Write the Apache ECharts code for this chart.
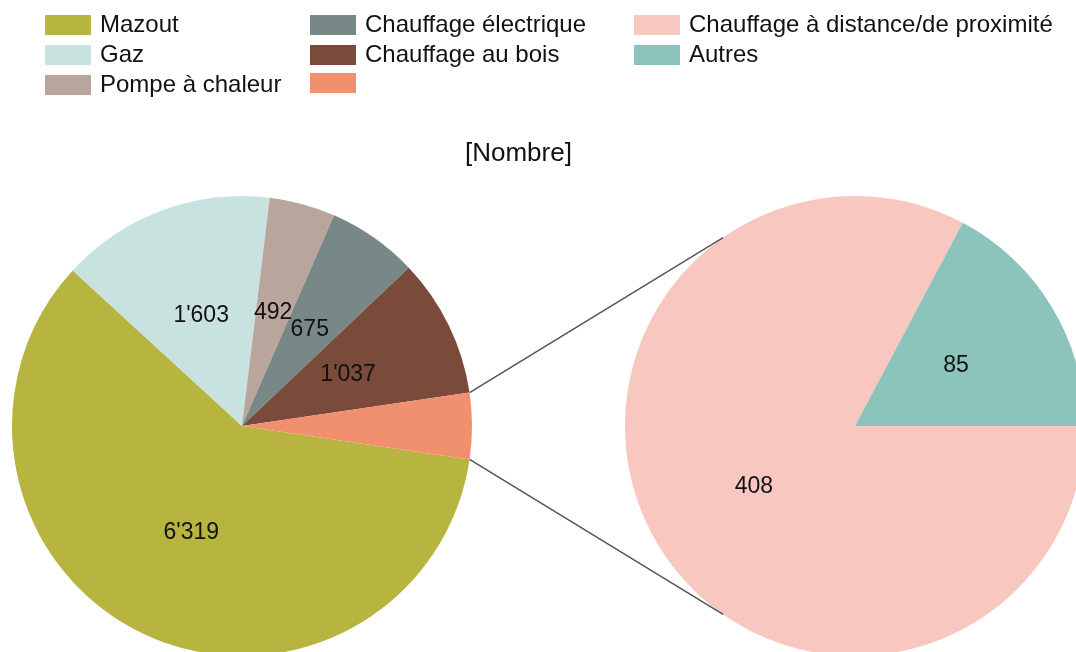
<!DOCTYPE html>
<html>
<head>
<meta charset="utf-8">
<script src="https://cdn.jsdelivr.net/npm/echarts@6/dist/echarts.min.js"></script>
<style>
html,body{margin:0;padding:0;background:#fff;}
#chart{width:1076px;height:652px;}
</style>
</head>
<body>
<div id="chart"></div>
<script>
const categories = ['Mazout', 'Gaz', 'Pompe à chaleur', 'Chauffage électrique', 'Chauffage au bois'];
const values = [6319, 1603, 492, 675, 1037];
const colors = ['#b8b440', '#c8e2e0', '#baa59d', '#788886', '#7a4a3a'];
const detailCategories = ['Chauffage à distance/de proximité', 'Autres'];
const detailValues = [408, 85];
const detailColors = ['#f7c7c0', '#8cc3bb'];
const groupName = 'Chauffage à distance/de proximité + Autres';
const groupColor = '#f1906f';
const titleText = '[Nombre]';

const FONT = '"Liberation Sans", Arial, sans-serif';
const fmt = v => String(v).replace(/\B(?=(\d{3})+(?!\d))/g, "'");

const groupValue = detailValues.reduce((a, b) => a + b, 0);
const total = values.reduce((a, b) => a + b, 0) + groupValue;
const halfAngle = 180 * groupValue / total;

const leftCenter = [242, 426];
const rightCenter = [855, 426];
const R = 230;

const mainData = categories.map((c, i) => ({ name: c, value: values[i], itemStyle: { color: colors[i] } }));
mainData.push({ name: groupName, value: groupValue, itemStyle: { color: groupColor }, label: { show: false } });
const detailData = detailCategories.map((c, i) => ({ name: c, value: detailValues[i], itemStyle: { color: detailColors[i] } }));

const legendBase = {
  orient: 'vertical',
  top: 13,
  padding: 0,
  itemGap: 6,
  itemWidth: 46,
  itemHeight: 20,
  icon: 'rect',
  selectedMode: false,
  textStyle: { fontFamily: FONT, fontSize: 24, color: '#111', padding: [0, 0, 0, 4] },
  formatter: n => (n === groupName ? '' : n)
};

const chart = echarts.init(document.getElementById('chart'), null, { renderer: 'canvas' });

// connector lines, derived from pie geometry
const toXY = (c, r, deg) => [c[0] + r * Math.cos(deg * Math.PI / 180), c[1] - r * Math.sin(deg * Math.PI / 180)];
const endAngle = 125;
const p1 = toXY(leftCenter, R, halfAngle), p2 = toXY(rightCenter, R, endAngle);
const p3 = toXY(leftCenter, R, -halfAngle), p4 = toXY(rightCenter, R, -endAngle);

const labelStyle = { show: true, position: 'inside', fontFamily: FONT, fontSize: 23, color: '#111', padding: [6, 0, 0, 0], formatter: p => fmt(p.value) };

chart.setOption({
  animation: false,
  backgroundColor: '#fff',
  title: {
    text: titleText,
    left: 460,
    top: 136,
    textStyle: { fontFamily: FONT, fontSize: 26, fontWeight: 'normal', color: '#111' }
  },
  legend: [
    Object.assign({}, legendBase, { left: 45, data: ['Mazout', 'Gaz', 'Pompe à chaleur'] }),
    Object.assign({}, legendBase, { left: 310, data: ['Chauffage électrique', 'Chauffage au bois', groupName] }),
    Object.assign({}, legendBase, { left: 634, data: ['Chauffage à distance/de proximité', 'Autres'] })
  ],
  graphic: [
    { type: 'line', z: 10, shape: { x1: p1[0], y1: p1[1], x2: p2[0], y2: p2[1] }, style: { stroke: '#555', lineWidth: 1.5 } },
    { type: 'line', z: 10, shape: { x1: p3[0], y1: p3[1], x2: p4[0], y2: p4[1] }, style: { stroke: '#555', lineWidth: 1.5 } }
  ],
  series: [
    {
      type: 'pie',
      center: leftCenter,
      radius: R,
      startAngle: 360 - halfAngle,
      clockwise: true,
      avoidLabelOverlap: false,
      minShowLabelAngle: 0,
      labelLayout: { hideOverlap: false },
      label: labelStyle,
      labelLine: { show: false },
      emphasis: { disabled: true },
      itemStyle: { borderWidth: 0 },
      data: mainData
    },
    {
      type: 'pie',
      center: rightCenter,
      radius: R,
      startAngle: 0,
      clockwise: true,
      avoidLabelOverlap: false,
      labelLayout: { hideOverlap: false },
      label: labelStyle,
      labelLine: { show: false },
      emphasis: { disabled: true },
      itemStyle: { borderWidth: 0 },
      data: detailData
    }
  ]
});
</script>
</body>
</html>
